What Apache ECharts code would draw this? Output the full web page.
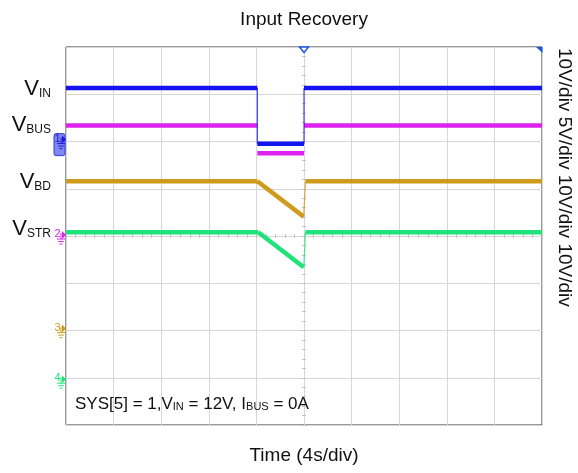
<!DOCTYPE html>
<html><head><meta charset="utf-8">
<script src="https://cdn.jsdelivr.net/npm/echarts@6/dist/echarts.min.js"></script>
<style>html,body{margin:0;padding:0;background:#fff}#c{width:578px;height:473px}</style>
</head><body><div id="c"></div>
<script>
// ---- data (time in s relative to trigger at screen centre, volts per channel) ----
const tIN  = [-20, -3.92, -3.92, 0, 0, 20];
const vIN  = [10.9, 10.9, -0.9, -0.9, 10.9, 10.9];
const tBUS = [-20, -3.92, -3.92, 0, 0, 20];
const vBUS = [11.6, 11.6, 8.65, 8.65, 11.6, 11.6];
const tBD  = [-20, -3.92, -0.03, 0.13, 20];
const vBD  = [31.2, 31.2, 23.7, 31.2, 31.2];
const tSTR = [-20, -3.84, -0.02, 0.12, 20];
const vSTR = [31.1, 31.1, 23.7, 31.1, 31.1];

const chNames  = ['IN', 'BUS', 'BD', 'STR'];
const chScale  = [10, 5, 10, 10];          // V/div
const voltsDiv = ['10V/div', '5V/div', '10V/div', '10V/div'];
const annotation = ['SYS[5] = 1,V', 'IN', ' = 12V, I', 'BUS', ' = 0A'];

// ---- scope setup (not data) ----
const chGround = [6.04, 4.02, 2.04, 0.97];   // ground level, divisions from bottom
const chColor  = ['#1414f0', '#dc22ec', '#cf9b1c', '#1fe37a'];
const chTextY  = [88, 124, 181, 228];
const chShowEdges = [true, false, true, true];
const FONT = 'Liberation Sans, Arial, sans-serif';
const DIVS = 8;

const chart = echarts.init(document.getElementById('c'), null, {renderer: 'canvas'});
const traces = [[tIN, vIN], [tBUS, vBUS], [tBD, vBD], [tSTR, vSTR]];

const series = [];
traces.forEach(([t, v], k) => {
  for (let i = 0; i < t.length - 1; i++) {
    const edge = Math.abs(t[i + 1] - t[i]) < 0.25;
    if (edge && !chShowEdges[k]) continue;
    series.push({
      type: 'line', xAxisIndex: 0, yAxisIndex: 3 + k,
      data: [[t[i], v[i]], [t[i + 1], v[i + 1]]],
      symbol: 'none', silent: true, animation: false,
      z: 10 + (k === 0 ? 5 : k),
      lineStyle: {color: chColor[k], width: edge ? 1.2 : 4.5, opacity: edge ? 0.8 : 1}
    });
  }
});

const hiddenY = chScale.map((s, k) => ({
  type: 'value', show: false, min: -chGround[k] * s, max: (DIVS - chGround[k]) * s,
  axisLine: {onZero: false}
}));

const tickStyle = {color: '#c4c4c4', width: 1};
function centerX(inside) {
  return {type: 'value', min: -20, max: 20, interval: 4,
    axisLine: {show: false, onZero: true, onZeroAxisIndex: 0},
    axisTick: {show: true, inside: inside, length: 2, lineStyle: tickStyle},
    minorTick: {show: true, splitNumber: 5, length: 2, lineStyle: tickStyle},
    axisLabel: {show: false}, splitLine: {show: false}};
}
function centerY(inside) {
  return {type: 'value', min: -4, max: 4, interval: 1,
    axisLine: {show: false, onZero: true, onZeroAxisIndex: 0},
    axisTick: {show: true, inside: inside, length: 2, lineStyle: tickStyle},
    minorTick: {show: true, splitNumber: 5, length: 2, lineStyle: tickStyle},
    axisLabel: {show: false}, splitLine: {show: false}};
}

chart.setOption({
  animation: false,
  grid: {left: 66, top: 47, width: 476, height: 378, show: true,
         borderColor: '#333', borderWidth: 1, backgroundColor: 'transparent'},
  xAxis: [
    {type: 'value', min: -20, max: 20, interval: 4,
     name: 'Time (4s/div)', nameLocation: 'middle', nameGap: 21,
     nameTextStyle: {fontSize: 19, color: '#111', fontFamily: FONT},
     axisLine: {show: false, onZero: false}, axisTick: {show: false}, axisLabel: {show: false},
     splitLine: {show: true, lineStyle: {color: '#d6d6d6', width: 1}}},
    centerX(true), centerX(false)
  ],
  yAxis: [
    {type: 'value', min: -4, max: 4, interval: 1,
     axisLine: {show: false, onZero: false}, axisTick: {show: false}, axisLabel: {show: false},
     splitLine: {show: true, lineStyle: {color: '#d6d6d6', width: 1}}},
    centerY(true), centerY(false)
  ].concat(hiddenY),
  series: series
});

// ---- decorations placed through the axes ----
const x0 = chart.convertToPixel({xAxisIndex: 0}, -20);
const x1 = chart.convertToPixel({xAxisIndex: 0}, 20);
const xt = chart.convertToPixel({xAxisIndex: 0}, 0);
const yTop = chart.convertToPixel({yAxisIndex: 0}, 4);
const g = [];

g.push({type: 'text', x: xt, y: 20, style: {text: 'Input Recovery', fontSize: 19, fontFamily: FONT,
  fill: '#111', align: 'center', verticalAlign: 'middle'}});

chNames.forEach((n, k) => {
  g.push({type: 'text', x: 51, y: chTextY[k], style: {
    text: '{v|V}{s|' + n + '}', align: 'right', verticalAlign: 'middle', fill: '#111',
    rich: {v: {fontSize: 22, lineHeight: 24, verticalAlign: 'bottom', fontFamily: FONT, fill: '#111'},
           s: {fontSize: 12, lineHeight: 12, verticalAlign: 'bottom', fontFamily: FONT, fill: '#111'}}}});
});

g.push({type: 'text', x: 75, y: 403, z: 50, style: {
  text: '{m|' + annotation[0] + '}{s|' + annotation[1] + '}{m|' + annotation[2] + '}{s|' + annotation[3] + '}{m|' + annotation[4] + '}',
  align: 'left', verticalAlign: 'middle', fill: '#111',
  rich: {m: {fontSize: 17, lineHeight: 19, verticalAlign: 'bottom', fontFamily: FONT, fill: '#111'},
         s: {fontSize: 11, lineHeight: 11, verticalAlign: 'bottom', fontFamily: FONT, fill: '#111'}}}});

g.push({type: 'text', x: 564, y: 48, rotation: -Math.PI / 2, style: {
  text: voltsDiv.join(' '), fontSize: 19, fontFamily: FONT, fill: '#111',
  align: 'left', verticalAlign: 'middle'}});

// trigger marker and corner marker
g.push({type: 'polygon', shape: {points: [[xt - 4.5, yTop], [xt + 4.5, yTop], [xt, yTop + 5.5]]},
  style: {fill: '#fff', stroke: '#2255ee', lineWidth: 1.5}, z: 60});
g.push({type: 'polygon', shape: {points: [[x1 - 6, yTop], [x1 + 0.5, yTop], [x1 + 0.5, yTop + 6]]},
  style: {fill: '#1a55e8'}, z: 60});

// channel ground markers
chColor.forEach((c, k) => {
  const gy = chart.convertToPixel({yAxisIndex: 3 + k}, 0);
  if (k === 0) {
    g.push({type: 'rect', shape: {x: x0 - 12, y: gy - 6, width: 11, height: 22, r: 2},
      style: {fill: '#7f88f2', stroke: '#3040e0', lineWidth: 1}, z: 55});
  }
  const col = k === 0 ? '#1a1ad8' : c;
  g.push({type: 'text', x: x0 - 8.5, y: gy - 1, z: 56, style: {text: String(k + 1), fontSize: 11,
    fontFamily: FONT, fill: col, align: 'center', verticalAlign: 'middle'}});
  g.push({type: 'polygon', shape: {points: [[x0 - 4, gy - 4], [x0, gy], [x0 - 4, gy + 4]]},
    style: {fill: col}, z: 56});
  g.push({type: 'polyline', shape: {points: [[x0 - 5, gy - 2], [x0 - 5, gy + 4]]},
    style: {stroke: col, lineWidth: 1}, z: 56});
  [[4, 4], [6.5, 2.8], [9, 1.5]].forEach(([dy, hw]) => {
    g.push({type: 'line', shape: {x1: x0 - 5 - hw, y1: gy + dy, x2: x0 - 5 + hw, y2: gy + dy},
      style: {stroke: col, lineWidth: 1}, z: 56});
  });
});

chart.setOption({graphic: g});
</script>
</body></html>
